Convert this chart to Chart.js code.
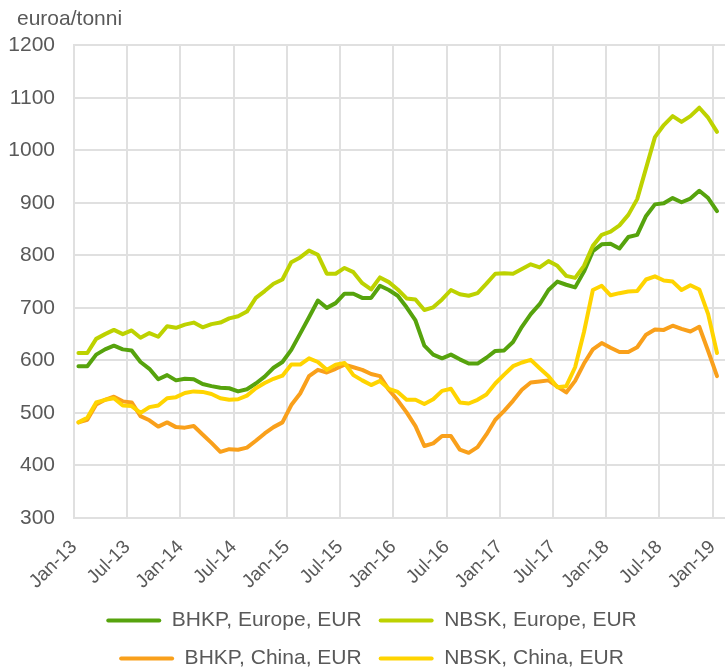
<!DOCTYPE html>
<html>
<head>
<meta charset="utf-8">
<script src="https://cdn.jsdelivr.net/npm/chart.js@4.4.1/dist/chart.umd.min.js"></script>
<style>
  html, body { margin: 0; padding: 0; background: #fff; }
  #wrap { width: 725px; height: 669px; }
</style>
</head>
<body>
<div id="wrap"><canvas id="pulpChart"></canvas></div>
<script>
// kuukausittaiset hinnat Jan-13 ... Jan-19 (73 kk)
const tickLabels = ['Jan-13', 'Jul-13', 'Jan-14', 'Jul-14', 'Jan-15', 'Jul-15', 'Jan-16',
  'Jul-16', 'Jan-17', 'Jul-17', 'Jan-18', 'Jul-18', 'Jan-19'];

const bhkpEurope = [589, 589, 611, 621, 628, 621, 619, 597, 584, 564, 572, 562, 565,
  564, 555, 551, 548, 547, 541, 545, 556, 569, 586, 597, 620,
  651, 682, 714, 700, 709, 727, 727, 719, 719, 742, 734, 723,
  701, 676, 628, 611, 604, 611, 602, 594, 594, 605, 618, 619,
  635, 664, 688, 707, 734, 750, 744, 739, 769, 808, 821, 822,
  813, 835, 839, 875, 897, 899, 909, 901, 908, 923, 909, 884];

const nbskEurope = [614, 614, 641, 650, 658, 650, 657, 643, 652, 645, 665, 662, 668,
  672, 663, 669, 672, 680, 684, 693, 719, 732, 746, 754, 787,
  796, 809, 801, 765, 765, 776, 768, 747, 735, 758, 749, 735,
  718, 716, 696, 701, 716, 734, 726, 723, 728, 746, 765, 766,
  765, 774, 783, 777, 789, 780, 761, 757, 780, 818, 839, 845,
  857, 877, 907, 966, 1025, 1048, 1065, 1054, 1065, 1081, 1062, 1035];

const bhkpChina = [482, 487, 516, 525, 531, 522, 520, 494, 486, 474, 482, 473, 472,
  475, 459, 443, 426, 431, 430, 434, 447, 461, 473, 482, 515,
  537, 570, 582, 577, 584, 592, 587, 582, 574, 570, 544, 524,
  501, 475, 437, 442, 456, 456, 430, 424, 435, 459, 487, 504,
  523, 544, 558, 560, 562, 550, 539, 561, 594, 621, 633, 624,
  616, 616, 625, 649, 659, 658, 666, 660, 655, 664, 618, 570];

const nbskChina = [482, 491, 520, 525, 528, 514, 513, 500, 511, 514, 528, 530, 538,
  541, 540, 536, 528, 525, 526, 533, 547, 557, 565, 571, 592,
  592, 604, 597, 582, 592, 595, 572, 562, 553, 561, 546, 540,
  525, 525, 517, 526, 542, 546, 520, 518, 525, 535, 556, 573,
  589, 596, 601, 585, 570, 549, 551, 587, 654, 734, 742, 724,
  728, 731, 732, 754, 760, 752, 750, 734, 743, 735, 688, 614];

const seriesNames = ['BHKP, Europe, EUR', 'NBSK, Europe, EUR', 'BHKP, China, EUR', 'NBSK, China, EUR'];
const seriesColors = ['#56a30d', '#bdd200', '#f9a01b', '#ffd400'];

// pisteet kuukauden puoliväliin
function toPoints(values) {
  return values.map((v, i) => ({ x: i + 0.5, y: v }));
}

const allSeries = [bhkpEurope, nbskEurope, bhkpChina, nbskChina];
const fontFamily = '"Liberation Sans", Arial, sans-serif';
const textColor = '#595959';
const gridColor = '#e0e0e0';

// otsikko ja selite hieman oikealle
const shiftBlocks = {
  id: 'shiftBlocks',
  afterLayout(chart) {
    chart.titleBlock.left = 17;
    chart.legend.left += 7;
    chart.legend.right += 7;
  }
};

const ctx = document.getElementById('pulpChart').getContext('2d');

new Chart(ctx, {
  type: 'line',
  data: {
    datasets: allSeries.map((values, k) => ({
      label: seriesNames[k],
      data: toPoints(values),
      borderColor: seriesColors[k],
      backgroundColor: seriesColors[k],
      borderWidth: 4,
      pointRadius: 0,
      tension: 0,
      borderJoinStyle: 'round',
      borderCapStyle: 'round',
      order: 3 - k
    }))
  },
  plugins: [shiftBlocks],
  options: {
    responsive: true,
    maintainAspectRatio: false,
    animation: false,
    layout: {
      padding: { left: 4, right: 0, top: 5, bottom: -10 }
    },
    plugins: {
      title: {
        display: true,
        text: 'euroa/tonni',
        align: 'start',
        color: textColor,
        font: { family: fontFamily, size: 21, weight: 'normal' },
        padding: { top: 2, bottom: 13 }
      },
      legend: {
        position: 'bottom',
        labels: {
          boxWidth: 55,
          boxHeight: 4,
          padding: 17,
          color: textColor,
          font: { family: fontFamily, size: 21 },
          useBorderRadius: true,
          borderRadius: 2,
          sort: (a, b) => a.datasetIndex - b.datasetIndex,
          generateLabels: function (chart) {
            const items = Chart.defaults.plugins.legend.labels.generateLabels(chart);
            items.forEach(it => {
              it.fillStyle = seriesColors[it.datasetIndex];
              it.strokeStyle = seriesColors[it.datasetIndex];
              it.lineWidth = 0;
            });
            return items;
          }
        }
      },
      tooltip: { enabled: false }
    },
    scales: {
      x: {
        type: 'linear',
        min: 0,
        max: 73.4,
        grid: { color: gridColor, lineWidth: 2, drawTicks: false },
        border: { color: gridColor, width: 2 },
        ticks: {
          stepSize: 6,
          includeBounds: false,
          autoSkip: false,
          minRotation: 45,
          maxRotation: 45,
          padding: 18,
          color: textColor,
          font: { family: fontFamily, size: 19 },
          callback: function (value) {
            return value % 6 === 0 ? tickLabels[value / 6] : '';
          }
        },
        afterFit: function (scale) {
          scale.height = 75;
          scale.paddingRight = 0;
          scale.paddingLeft = 0;
        }
      },
      y: {
        min: 300,
        max: 1200,
        grid: { color: gridColor, lineWidth: 2, drawTicks: false },
        border: { color: gridColor, width: 2 },
        ticks: {
          stepSize: 100,
          padding: 19,
          color: textColor,
          font: { family: fontFamily, size: 21 },
          callback: function (value) {
            return String(value); // ei tuhaterotinta
          }
        },
        afterFit: function (scale) {
          scale.width = 70;
        }
      }
    }
  }
});
</script>
</body>
</html>
